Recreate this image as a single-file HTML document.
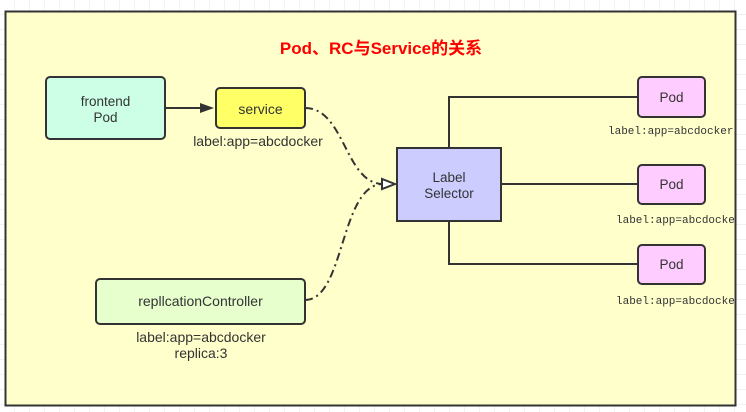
<!DOCTYPE html>
<html><head><meta charset="utf-8"><style>
html,body{margin:0;padding:0;width:746px;height:412px;overflow:hidden;background:#fff}
svg{display:block}
text{font-family:"Liberation Sans","Noto Sans CJK SC",sans-serif;fill:#333}
.m{font-family:"Liberation Mono",monospace}
</style></head><body>
<svg width="746" height="412" viewBox="0 0 746 412" xmlns="http://www.w3.org/2000/svg">
<defs>
<pattern id="g" width="15" height="15" patternUnits="userSpaceOnUse" x="0" y="0">
<path d="M15 0V15M0 15H15" stroke="#e6e6e6" stroke-width="1" fill="none"/>
</pattern>
<clipPath id="c"><rect x="5" y="11" width="730" height="394"/></clipPath>
</defs>
<rect width="746" height="412" fill="url(#g)"/>
<rect x="5.5" y="11.5" width="730" height="394" fill="#ffffcc" stroke="#333" stroke-width="2"/>
<text x="381" y="54" text-anchor="middle" font-size="17" font-weight="bold" style="fill:#ff0000">Pod、RC与Service的关系</text>

<rect x="46" y="77" width="119" height="62" rx="4" fill="#ccffe6" stroke="#333" stroke-width="2"/>
<text x="105.5" y="106" text-anchor="middle" font-size="13.5">frontend</text>
<text x="105.5" y="122" text-anchor="middle" font-size="13.5">Pod</text>

<line x1="165" y1="108" x2="205" y2="108" stroke="#333" stroke-width="2"/>
<path d="M214 108 L200 103 L200 113 Z" fill="#333"/>

<rect x="216" y="88" width="89" height="40" rx="4" fill="#ffff66" stroke="#333" stroke-width="2"/>
<text x="260.5" y="114" text-anchor="middle" font-size="14">service</text>
<text x="258" y="146" text-anchor="middle" font-size="14">label:app=abcdocker</text>

<rect x="96" y="279" width="209" height="45" rx="4" fill="#e6ffcc" stroke="#333" stroke-width="2"/>
<text x="200.5" y="306" text-anchor="middle" font-size="14">repllcationController</text>
<text x="201" y="342" text-anchor="middle" font-size="14">label:app=abcdocker</text>
<text x="201" y="358" text-anchor="middle" font-size="14">replica:3</text>

<path d="M305 108 C345 108 345 184 383 184" fill="none" stroke="#333" stroke-width="2" stroke-dasharray="8,4,2,4"/>
<path d="M305 300 C345 300 340 184 383 184" fill="none" stroke="#333" stroke-width="2" stroke-dasharray="8,4,2,4"/>
<path d="M395 184 L382 179 L382 189 Z" fill="#fff" stroke="#333" stroke-width="2"/>

<polyline points="449,148 449,97 638,97" fill="none" stroke="#333" stroke-width="2"/>
<line x1="501" y1="184" x2="638" y2="184" stroke="#333" stroke-width="2"/>
<polyline points="449,221 449,264 638,264" fill="none" stroke="#333" stroke-width="2"/>

<rect x="397" y="148" width="104" height="73" fill="#ccccff" stroke="#333" stroke-width="2"/>
<text x="449" y="182" text-anchor="middle" font-size="13.5">Label</text>
<text x="449" y="198" text-anchor="middle" font-size="13.5">Selector</text>

<rect x="638" y="77" width="67" height="40" rx="4" fill="#ffccff" stroke="#333" stroke-width="2"/>
<text x="671.5" y="102" text-anchor="middle" font-size="13.5">Pod</text>

<rect x="638" y="165" width="67" height="39" rx="4" fill="#ffccff" stroke="#333" stroke-width="2"/>
<text x="671.5" y="189" text-anchor="middle" font-size="13.5">Pod</text>

<rect x="638" y="245" width="67" height="39" rx="4" fill="#ffccff" stroke="#333" stroke-width="2"/>
<text x="671.5" y="269" text-anchor="middle" font-size="13.5">Pod</text>

<g clip-path="url(#c)">
<text class="m" x="608" y="134" font-size="11">label:app=abcdocker</text>
<text class="m" x="616" y="223" font-size="11">label:app=abcdocker</text>
<text class="m" x="616" y="304" font-size="11">label:app=abcdocker</text>
</g>
</svg>
</body></html>
